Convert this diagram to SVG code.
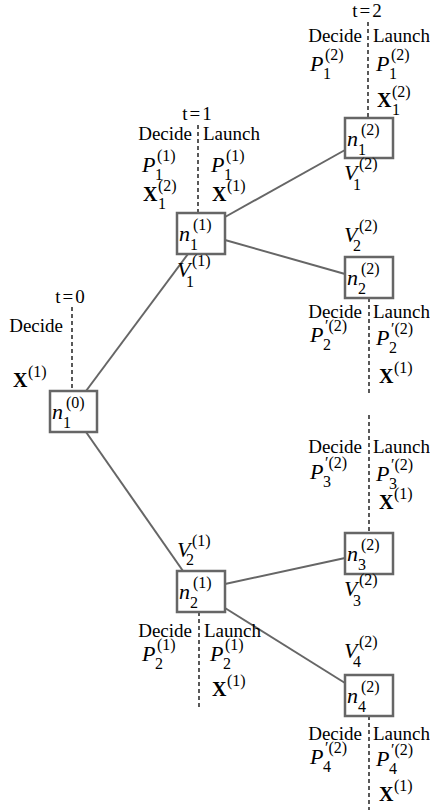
<svg xmlns="http://www.w3.org/2000/svg" width="430" height="810" viewBox="0 0 430 810">
<style>
.lbl{font-family:"Liberation Serif","Times New Roman","DejaVu Serif",serif;font-size:19px;fill:#000}
.m{font-family:"Liberation Serif","Times New Roman","DejaVu Serif",serif;font-style:italic;font-size:22px;fill:#000}
.b{font-family:"Liberation Serif","Times New Roman","DejaVu Serif",serif;font-weight:bold;font-size:20px;fill:#000}
.s{font-family:"Liberation Serif","Times New Roman","DejaVu Serif",serif;font-size:16px;font-style:normal;font-weight:normal;fill:#000}
.box{fill:#fff;stroke:#666;stroke-width:2.5}
.edge{stroke:#666;stroke-width:2;fill:none}
.dash{stroke:#000;stroke-width:1.3;stroke-dasharray:4 3;fill:none}
</style>
<rect width="430" height="810" fill="#fff"/>
<g id="timelines">
<line class="dash" x1="72" y1="307" x2="72" y2="391"/>
<line class="dash" x1="198" y1="125" x2="198" y2="213"/>
<line class="dash" x1="368" y1="22" x2="368" y2="118"/>
<line class="dash" x1="369" y1="298" x2="369" y2="396"/>
<line class="dash" x1="369" y1="415" x2="369" y2="533"/>
<line class="dash" x1="199" y1="612" x2="199" y2="708"/>
<line class="dash" x1="369" y1="716" x2="369" y2="810"/>
</g>
<g id="connectors">
<line class="edge" x1="86" y1="391" x2="188" y2="254"/>
<line class="edge" x1="86" y1="432" x2="183" y2="571"/>
<line class="edge" x1="225" y1="217" x2="345" y2="150"/>
<line class="edge" x1="225" y1="240" x2="345" y2="274"/>
<line class="edge" x1="225" y1="584" x2="345" y2="558"/>
<line class="edge" x1="225" y1="608" x2="345" y2="683"/>
</g>
<g id="n1_0">
<rect class="box" x="50" y="391" width="47" height="41"/>
<text class="m" x="52" y="419">n<tspan class="s" x="66" y="408">(0)</tspan><tspan class="s" x="63" y="428">1</tspan></text>
</g>
<g id="n1_1">
<rect class="box" x="177" y="213" width="48" height="41"/>
<text class="m" x="179" y="241">n<tspan class="s" x="193" y="230">(1)</tspan><tspan class="s" x="190" y="250">1</tspan></text>
</g>
<g id="n2_1">
<rect class="box" x="177" y="571" width="48" height="41"/>
<text class="m" x="179" y="599">n<tspan class="s" x="193" y="588">(1)</tspan><tspan class="s" x="190" y="608">2</tspan></text>
</g>
<g id="n1_2">
<rect class="box" x="345" y="118" width="48" height="40"/>
<text class="m" x="347" y="146">n<tspan class="s" x="361" y="135">(2)</tspan><tspan class="s" x="358" y="155">1</tspan></text>
</g>
<g id="n2_2">
<rect class="box" x="345" y="257" width="48" height="41"/>
<text class="m" x="347" y="285">n<tspan class="s" x="361" y="274">(2)</tspan><tspan class="s" x="358" y="294">2</tspan></text>
</g>
<g id="n3_2">
<rect class="box" x="345" y="533" width="48" height="41"/>
<text class="m" x="347" y="561">n<tspan class="s" x="361" y="550">(2)</tspan><tspan class="s" x="358" y="570">3</tspan></text>
</g>
<g id="n4_2">
<rect class="box" x="345" y="675" width="48" height="41"/>
<text class="m" x="347" y="703">n<tspan class="s" x="361" y="692">(2)</tspan><tspan class="s" x="358" y="712">4</tspan></text>
</g>
<g id="labels_t0">
<text class="lbl" x="71" y="303" text-anchor="middle" letter-spacing="2">t=0</text>
<text class="lbl" x="63" y="332" text-anchor="end">Decide</text>
<text class="b" x="13" y="387">X<tspan class="s" x="28" y="377">(1)</tspan></text>
</g>
<g id="labels_t1">
<text class="lbl" x="198" y="120" text-anchor="middle" letter-spacing="2">t=1</text>
<text class="lbl" x="192" y="140" text-anchor="end">Decide</text>
<text class="lbl" x="203" y="140">Launch</text>
<text class="m" x="142" y="172">P<tspan class="s" x="157" y="161">(1)</tspan><tspan class="s" x="155" y="180">1</tspan></text>
<text class="m" x="211" y="172">P<tspan class="s" x="226" y="161">(1)</tspan><tspan class="s" x="224" y="180">1</tspan></text>
<text class="b" x="143" y="201">X<tspan class="s" x="158" y="191">(2)</tspan><tspan class="s" x="158" y="209">1</tspan></text>
<text class="b" x="212" y="201">X<tspan class="s" x="227" y="191">(1)</tspan></text>
<text class="m" x="177" y="277">V<tspan class="s" x="192" y="266">(1)</tspan><tspan class="s" x="186" y="287">1</tspan></text>
</g>
<g id="labels_n21">
<text class="m" x="177" y="557">V<tspan class="s" x="192" y="546">(1)</tspan><tspan class="s" x="186" y="565">2</tspan></text>
<text class="lbl" x="192" y="637" text-anchor="end">Decide</text>
<text class="lbl" x="204" y="637">Launch</text>
<text class="m" x="142" y="661">P<tspan class="s" x="157" y="650">(1)</tspan><tspan class="s" x="155" y="669">2</tspan></text>
<text class="m" x="210" y="661">P<tspan class="s" x="225" y="650">(1)</tspan><tspan class="s" x="223" y="669">2</tspan></text>
<text class="b" x="212" y="696">X<tspan class="s" x="227" y="686">(1)</tspan></text>
</g>
<g id="labels_n12">
<text class="lbl" x="368" y="17" text-anchor="middle" letter-spacing="2">t=2</text>
<text class="lbl" x="362" y="42" text-anchor="end">Decide</text>
<text class="lbl" x="373" y="42">Launch</text>
<text class="m" x="310" y="71">P<tspan class="s" x="325" y="60">(2)</tspan><tspan class="s" x="323" y="79">1</tspan></text>
<text class="m" x="376" y="71">P<tspan class="s" x="391" y="60">(2)</tspan><tspan class="s" x="389" y="79">1</tspan></text>
<text class="b" x="377" y="107">X<tspan class="s" x="392" y="97">(2)</tspan><tspan class="s" x="392" y="115">1</tspan></text>
<text class="m" x="344" y="180">V<tspan class="s" x="359" y="169">(2)</tspan><tspan class="s" x="353" y="190">1</tspan></text>
</g>
<g id="labels_n22">
<text class="m" x="344" y="242">V<tspan class="s" x="359" y="231">(2)</tspan><tspan class="s" x="353" y="251">2</tspan></text>
<text class="lbl" x="362" y="318" text-anchor="end">Decide</text>
<text class="lbl" x="373" y="318">Launch</text>
<text class="m" x="310" y="342">P<tspan class="s" x="325" y="331">′(2)</tspan><tspan class="s" x="323" y="350">2</tspan></text>
<text class="m" x="376" y="345">P<tspan class="s" x="391" y="334">′(2)</tspan><tspan class="s" x="389" y="353">2</tspan></text>
<text class="b" x="379" y="383">X<tspan class="s" x="394" y="373">(1)</tspan></text>
</g>
<g id="labels_n32">
<text class="lbl" x="362" y="453" text-anchor="end">Decide</text>
<text class="lbl" x="373" y="453">Launch</text>
<text class="m" x="310" y="479">P<tspan class="s" x="325" y="468">′(2)</tspan><tspan class="s" x="323" y="487">3</tspan></text>
<text class="m" x="376" y="481">P<tspan class="s" x="391" y="470">′(2)</tspan><tspan class="s" x="389" y="489">3</tspan></text>
<text class="b" x="379" y="509">X<tspan class="s" x="394" y="499">(1)</tspan></text>
<text class="m" x="344" y="596">V<tspan class="s" x="359" y="585">(2)</tspan><tspan class="s" x="353" y="606">3</tspan></text>
</g>
<g id="labels_n42">
<text class="m" x="344" y="658">V<tspan class="s" x="359" y="647">(2)</tspan><tspan class="s" x="353" y="667">4</tspan></text>
<text class="lbl" x="362" y="740" text-anchor="end">Decide</text>
<text class="lbl" x="373" y="740">Launch</text>
<text class="m" x="310" y="764">P<tspan class="s" x="325" y="753">′(2)</tspan><tspan class="s" x="323" y="772">4</tspan></text>
<text class="m" x="376" y="766">P<tspan class="s" x="391" y="755">′(2)</tspan><tspan class="s" x="389" y="774">4</tspan></text>
<text class="b" x="379" y="801">X<tspan class="s" x="394" y="791">(1)</tspan></text>
</g>
</svg>
